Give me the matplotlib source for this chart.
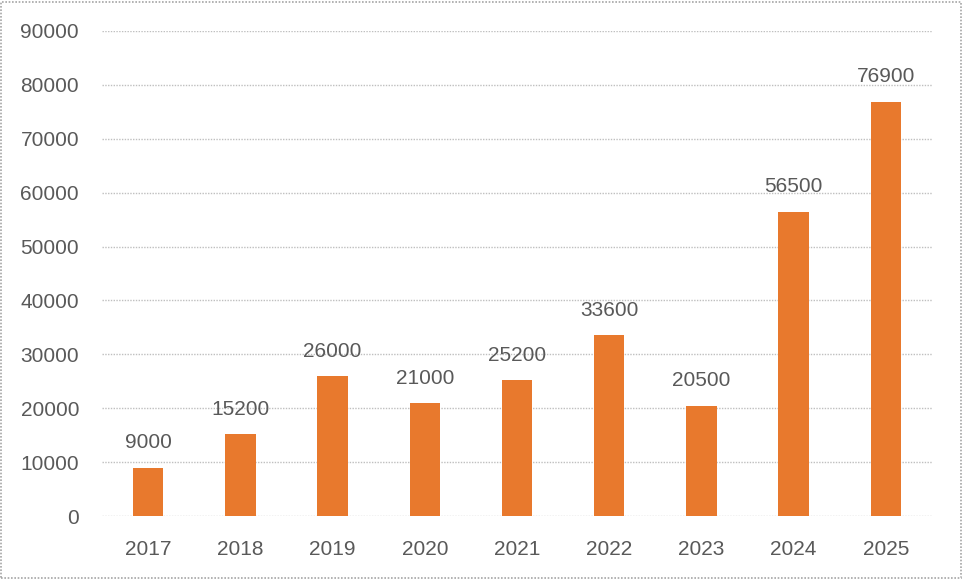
import matplotlib
matplotlib.use('Agg')
import matplotlib.pyplot as plt
from matplotlib.patches import Rectangle

years = ['2017', '2018', '2019', '2020', '2021', '2022', '2023', '2024', '2025']
values = [9000, 15200, 26000, 21000, 25200, 33600, 20500, 56500, 76900]
yticks = [0, 10000, 20000, 30000, 40000, 50000, 60000, 70000, 80000, 90000]

barColor = '#E8792D'
textColor = '#595959'
gridColor = '#BFBFBF'

plt.rcParams['font.family'] = ['Liberation Sans', 'DejaVu Sans']

fig = plt.figure(figsize=(9.63, 5.79), dpi=100)
ax = fig.add_axes([102/963, 1 - 516/579, 830/963, 485/579])

x = range(len(years))
bars = ax.bar(x, values, width=0.33, color=barColor, zorder=3)
for i, v in enumerate(values):
    ax.annotate(str(v), (i, v), xytext=(0, 11), textcoords='offset points',
                ha='center', va='bottom', fontsize=15, color=textColor)

ax.set_xlim(-0.5, len(years) - 0.5)
ax.set_ylim(0, 90000)
ax.set_yticks(yticks)
ax.set_yticklabels([str(t) for t in yticks])
ax.set_xticks(list(x))
ax.set_xticklabels(years)
ax.tick_params(axis='both', length=0, labelsize=15, labelcolor=textColor)
ax.tick_params(axis='y', pad=16.5)
ax.tick_params(axis='x', pad=17)
ax.grid(axis='y', color=gridColor, linestyle=(0, (1, 1)), linewidth=1, zorder=0)
for s in ax.spines.values():
    s.set_visible(False)

border = Rectangle((0.001, 0.002), 0.997, 0.995, transform=fig.transFigure,
                   fill=False, edgecolor='#A6A6A6', linestyle=(0, (1, 1)), linewidth=1.2)
fig.patches.append(border)

fig.savefig('out.png', dpi=100)
